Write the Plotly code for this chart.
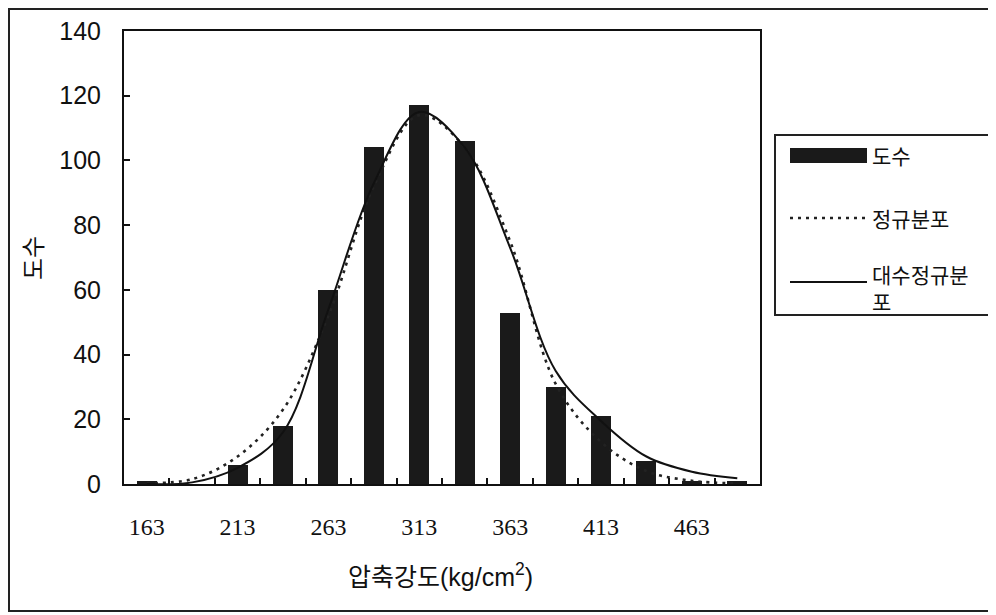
import plotly.graph_objects as go

# ---- data ----
categories = [163, 188, 213, 238, 263, 288, 313, 338, 363, 388, 413, 438, 463, 488]
freq = [1, 0, 6, 18, 60, 104, 117, 106, 53, 30, 21, 7, 1, 1]
normal_fit = [0.3, 1.5, 8.5, 23, 52, 92, 114, 104, 75, 31, 13, 4, 1, 0.2]
lognormal_fit = [0, 0.5, 5, 16, 54, 93, 115, 104, 73, 35, 19.5, 8.5, 3.8, 1.8]
x_tick_labels = [163, 213, 263, 313, 363, 413, 463]
y_tick_labels = [0, 20, 40, 60, 80, 100, 120, 140]

name_bar = "도수"
name_normal = "정규분포"
name_lognormal = "대수정규분포"
x_title = "압축강도(kg/cm<sup>2</sup>)"
y_title = "도수"

# ---- layout geometry (pixels, page has an 8px body margin) ----
OFF = 8
W, H = 996 - OFF, 615 - OFF
L, R, T, B = 124 - OFF, 760 - OFF, 31 - OFF, 484 - OFF
pw, ph = R - L, B - T


def px(x):
    return (x - OFF - L) / pw


def py(y):
    return (B - (y - OFF)) / ph


step = categories[1] - categories[0]
boundaries = [c + step / 2 for c in categories[:-1]]

fig = go.Figure()
fig.add_trace(go.Bar(x=categories, y=freq, name=name_bar, width=step * 0.44,
                     marker=dict(color="#1a1a1a", line=dict(width=0)), showlegend=False))
fig.add_trace(go.Scatter(x=categories, y=normal_fit, name=name_normal, mode="lines",
                         line=dict(color="#222", width=2.6, dash="3px,5px", shape="spline"),
                         showlegend=False))
fig.add_trace(go.Scatter(x=categories, y=lognormal_fit, name=name_lognormal, mode="lines",
                         line=dict(color="#111", width=2, shape="spline"),
                         showlegend=False))

tickfont_y = dict(family="Liberation Sans, Arial", size=25, color="#111")
tickfont_x = dict(family="Liberation Serif, Times New Roman", size=24, color="#111")

fig.update_layout(
    width=W, height=H,
    margin=dict(l=L, r=W - R, t=T, b=H - B, autoexpand=False),
    paper_bgcolor="white", plot_bgcolor="white",
    bargap=0,
    xaxis=dict(
        range=[categories[0] - step / 2, categories[-1] + step / 2],
        tickmode="array", tickvals=x_tick_labels, ticktext=[str(v) for v in x_tick_labels],
        ticks="", tickfont=tickfont_x, ticklabelstandoff=20,
        showgrid=False, zeroline=False,
        showline=True, linecolor="#111", linewidth=2, mirror=True,
        minor=dict(tickmode="array", tickvals=boundaries, ticks="inside",
                   ticklen=6, tickwidth=1.5, tickcolor="#111", showgrid=False),
    ),
    yaxis=dict(
        range=[0, 140], tickmode="array", tickvals=y_tick_labels,
        ticks="inside", ticklen=6, tickwidth=1.5, tickcolor="#111",
        tickfont=tickfont_y, ticklabelstandoff=16,
        showgrid=False, zeroline=False,
        showline=True, linecolor="#111", linewidth=2, mirror=True,
    ),
    font=dict(family="Liberation Sans, Noto Sans CJK KR", color="#111"),
)

shapes = []
# outer frame
shapes.append(dict(type="rect", xref="paper", yref="paper",
                   x0=px(9), x1=px(994), y0=py(611), y1=py(9),
                   line=dict(color="#222", width=2)))
# legend box
shapes.append(dict(type="rect", xref="paper", yref="paper",
                   x0=px(775), x1=px(993), y0=py(315), y1=py(135),
                   line=dict(color="#222", width=2), fillcolor="white"))
# legend swatches
shapes.append(dict(type="rect", xref="paper", yref="paper",
                   x0=px(790), x1=px(867), y0=py(163), y1=py(148),
                   line=dict(width=0), fillcolor="#1a1a1a"))
shapes.append(dict(type="line", xref="paper", yref="paper",
                   x0=px(790), x1=px(866), y0=py(218), y1=py(218),
                   line=dict(color="#222", width=2.6, dash="3px,5px")))
shapes.append(dict(type="line", xref="paper", yref="paper",
                   x0=px(790), x1=px(867), y0=py(282), y1=py(282),
                   line=dict(color="#111", width=2)))
fig.update_layout(shapes=shapes)

kfont = dict(family="Noto Sans CJK KR", size=21, color="#111")
ann = [
    dict(text=name_bar, x=px(870), y=py(155)),
    dict(text=name_normal, x=px(870), y=py(218)),
    dict(text="대수정규분<br>포", x=px(870), y=py(287)),
]
annotations = []
for a in ann:
    annotations.append(dict(xref="paper", yref="paper", xanchor="left", yanchor="middle",
                            showarrow=False, font=kfont, align="left", **a))
annotations.append(dict(text=x_title, xref="paper", yref="paper", x=px(440), y=py(575),
                        xanchor="center", yanchor="middle", showarrow=False,
                        font=dict(family="Liberation Sans, Noto Sans CJK KR", size=25, color="#111")))
annotations.append(dict(text=y_title, xref="paper", yref="paper", x=px(31), y=py(258),
                        xanchor="center", yanchor="middle", showarrow=False, textangle=-90,
                        font=dict(family="Noto Sans CJK KR", size=24, color="#111")))
fig.update_layout(annotations=annotations)

fig.write_html("out.html")
